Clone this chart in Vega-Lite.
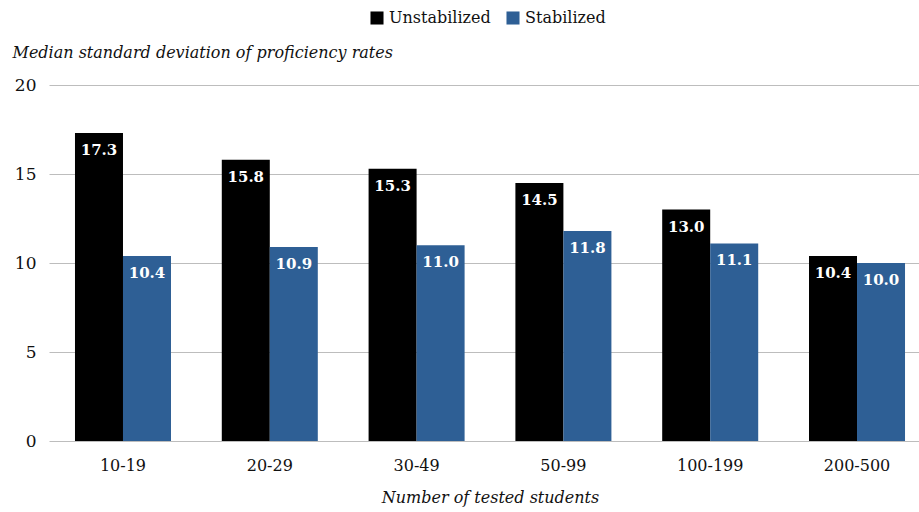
{
  "$schema": "https://vega.github.io/schema/vega-lite/v6.json",
  "width": 870,
  "height": 356,
  "autosize": {"type": "none"},
  "padding": {"left": 49, "top": 85, "right": 0, "bottom": 71},
  "background": "white",
  "config": {
    "view": {"stroke": null},
    "font": "DejaVu Serif"
  },
  "data": {
    "values": [
      {"group": "10-19", "series": "Unstabilized", "value": 17.3},
      {"group": "10-19", "series": "Stabilized", "value": 10.4},
      {"group": "20-29", "series": "Unstabilized", "value": 15.8},
      {"group": "20-29", "series": "Stabilized", "value": 10.9},
      {"group": "30-49", "series": "Unstabilized", "value": 15.3},
      {"group": "30-49", "series": "Stabilized", "value": 11.0},
      {"group": "50-99", "series": "Unstabilized", "value": 14.5},
      {"group": "50-99", "series": "Stabilized", "value": 11.8},
      {"group": "100-199", "series": "Unstabilized", "value": 13.0},
      {"group": "100-199", "series": "Stabilized", "value": 11.1},
      {"group": "200-500", "series": "Unstabilized", "value": 10.4},
      {"group": "200-500", "series": "Stabilized", "value": 10.0}
    ]
  },
  "encoding": {
    "x": {
      "field": "group",
      "type": "nominal",
      "sort": null,
      "scale": {"range": [0, 882], "paddingInner": 0.346, "paddingOuter": 0.177},
      "axis": {
        "title": "Number of tested students",
        "titleFont": "DejaVu Serif",
        "titleFontStyle": "italic",
        "titleFontWeight": "normal",
        "titleFontSize": 16,
        "titleColor": "#111",
        "titlePadding": 16,
        "labelAngle": 0,
        "labelFontSize": 16,
        "labelColor": "#111",
        "labelPadding": 16,
        "ticks": false,
        "domain": false
      }
    },
    "xOffset": {
      "field": "series",
      "type": "nominal",
      "sort": ["Unstabilized", "Stabilized"],
      "scale": {"paddingInner": 0, "paddingOuter": 0}
    },
    "y": {
      "field": "value",
      "type": "quantitative",
      "scale": {"domain": [0, 20], "nice": false},
      "axis": {
        "values": [0, 5, 10, 15, 20],
        "title": "Median standard deviation of proficiency rates",
        "titleAngle": 0,
        "titleAlign": "left",
        "titleBaseline": "alphabetic",
        "titleX": -37,
        "titleY": -28,
        "titleFont": "DejaVu Serif",
        "titleFontStyle": "italic",
        "titleFontWeight": "normal",
        "titleFontSize": 16,
        "titleColor": "#111",
        "labelFontSize": 17,
        "labelColor": "#111",
        "labelPadding": 13,
        "ticks": false,
        "domain": false,
        "grid": true,
        "gridColor": "#bdbdbd",
        "gridWidth": 1.2
      }
    }
  },
  "layer": [
    {
      "mark": {"type": "bar"},
      "encoding": {
        "color": {
          "field": "series",
          "type": "nominal",
          "scale": {"domain": ["Unstabilized", "Stabilized"], "range": ["#000000", "#2e5f95"]},
          "legend": {
            "title": null,
            "orient": "none",
            "direction": "horizontal",
            "legendX": 320,
            "legendY": -75,
            "symbolType": "square",
            "symbolSize": 170,
            "symbolStrokeWidth": 0,
            "labelFontSize": 16,
            "labelColor": "#111",
            "labelFont": "DejaVu Serif",
            "columnPadding": 14
          }
        }
      }
    },
    {
      "mark": {"type": "text", "baseline": "top", "dy": 10, "color": "white", "fontWeight": "bold", "fontSize": 15},
      "encoding": {
        "text": {"field": "value", "type": "quantitative", "format": ".1f"}
      }
    }
  ]
}
